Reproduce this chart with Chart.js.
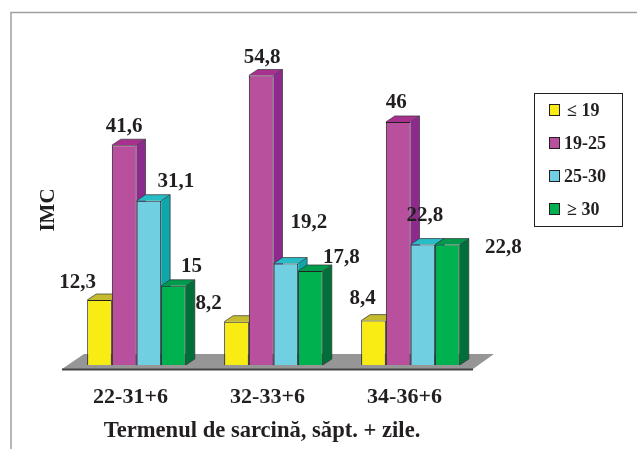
<!DOCTYPE html>
<html>
<head>
<meta charset="utf-8">
<script src="https://cdn.jsdelivr.net/npm/chart.js@4"></script>
<style>
  html, body { margin: 0; padding: 0; background: #fff; overflow: hidden; }
  #chart { display: block; }
</style>
</head>
<body>
<canvas id="chart" width="637" height="449"></canvas>
<script>
const categories = ['22-31+6', '32-33+6', '34-36+6']
const seriesNames = ['≤ 19', '19-25', '25-30', '≥ 30']
const under19 = [12.3, 8.2, 8.4]
const from19to25 = [41.6, 54.8, 46]
const from25to30 = [31.1, 19.2, 22.8]
const over30 = [15, 17.8, 22.8]

const yAxisTitle = 'IMC'
const xAxisTitle = 'Termenul de sarcină, săpt. + zile.'

const serif = '"Liberation Serif", serif'

// front, top and side faces of each series
const faces = [
    { front: '#f8ec14', top: '#c6bb2c', side: '#a89e1c' },
    { front: '#b8509e', top: '#a8308f', side: '#8e2a8e' },
    { front: '#70cfe0', top: '#28bcc6', side: '#10a5aa' },
    { front: '#00b14f', top: '#009a4d', side: '#006f3a' }
]
const depth = { x: 9, y: -6 }

// label nudges from the top centre of each bar, [series][category]
const labelNudges = [
    [[-22, -17], [-28, -18], [-11, -22]],
    [[0, -19], [1, -18], [-2, -19]],
    [[27, -19], [23, -41], [2, -29]],
    [[18, -19], [31, -13], [56, 3]]
]

const polygon = (ctx, points, fill) => {
    ctx.beginPath()
    points.forEach(([x, y], i) => i ? ctx.lineTo(x, y) : ctx.moveTo(x, y))
    ctx.closePath()
    ctx.fillStyle = fill
    ctx.fill()
}

// page frame and the grey floor under the bars
const floorPlugin = {
    id: 'floor',
    beforeDatasetsDraw(chart) {
        const { ctx, chartArea, scales } = chart
        const base = scales.y.getPixelForValue(0)
        ctx.save()
        ctx.strokeStyle = '#a0a0a0'
        ctx.lineWidth = 1.5
        ctx.beginPath()
        ctx.moveTo(11, 449)
        ctx.lineTo(11, 12.5)
        ctx.lineTo(637, 12.5)
        ctx.stroke()

        const left = chartArea.left - 6
        const right = chartArea.right - 6
        polygon(ctx, [[left, base + 4], [left + 22, base - 11], [right + 21, base - 11], [right, base + 4]], '#969696')
        ctx.strokeStyle = '#444'
        ctx.lineWidth = 2
        ctx.beginPath()
        ctx.moveTo(left, base + 4.5)
        ctx.lineTo(right, base + 4.5)
        ctx.stroke()
        ctx.restore()
    }
}

// extruded tops and sides go down first, left to right, so the fronts cover them
const depthPlugin = {
    id: 'depth',
    beforeDatasetsDraw(chart) {
        const { ctx } = chart
        ctx.save()
        chart.data.datasets.forEach((set, s) => {
            const face = faces[s]
            chart.getDatasetMeta(s).data.forEach(bar => {
                const l = bar.x - bar.width / 2
                const r = bar.x + bar.width / 2
                const t = bar.y
                const b = bar.base
                polygon(ctx, [[l, t], [l + depth.x, t + depth.y], [r + depth.x, t + depth.y], [r, t]], face.top)
                polygon(ctx, [[r, t], [r + depth.x, t + depth.y], [r + depth.x, b + depth.y], [r, b]], face.side)
                ctx.strokeStyle = '#333'
                ctx.lineWidth = 0.7
                ctx.beginPath()
                ctx.moveTo(l, t)
                ctx.lineTo(l + depth.x, t + depth.y)
                ctx.lineTo(r + depth.x, t + depth.y)
                ctx.lineTo(r + depth.x, b + depth.y)
                ctx.lineTo(r, b)
                ctx.moveTo(r + depth.x, t + depth.y)
                ctx.lineTo(r, t)
                ctx.stroke()
            })
        })
        ctx.restore()
    }
}

// value labels, axis titles and the boxed legend
const textPlugin = {
    id: 'texts',
    afterDraw(chart) {
        const { ctx } = chart
        ctx.save()
        ctx.fillStyle = '#231f20'
        ctx.textAlign = 'center'
        ctx.textBaseline = 'middle'

        ctx.font = 'bold 21px ' + serif
        chart.data.datasets.forEach((set, s) => {
            chart.getDatasetMeta(s).data.forEach((bar, c) => {
                const [dx, dy] = labelNudges[s][c]
                ctx.fillText(String(set.data[c]).replace('.', ','), bar.x + dx, bar.y + dy)
            })
        })

        ctx.font = 'bold 22.6px ' + serif
        ctx.fillText(xAxisTitle, 262, 431)

        ctx.save()
        ctx.translate(49, 210)
        ctx.rotate(-Math.PI / 2)
        ctx.font = 'bold 21px ' + serif
        ctx.fillText(yAxisTitle, 0, 0)
        ctx.restore()

        ctx.fillStyle = '#fff'
        ctx.fillRect(534, 93, 88, 133)
        ctx.strokeStyle = '#231f20'
        ctx.lineWidth = 1
        ctx.strokeRect(534.5, 93.5, 88, 133)

        ctx.textAlign = 'left'
        ctx.font = 'bold 18px ' + serif
        seriesNames.forEach((name, i) => {
            const y = 110 + i * 33
            ctx.fillStyle = faces[i].front
            ctx.fillRect(550, y - 5, 9, 10)
            ctx.strokeStyle = '#231f20'
            ctx.strokeRect(549.5, y - 5.5, 10, 11)
            ctx.fillStyle = '#231f20'
            ctx.fillText(name, i === 0 || i === 3 ? 567 : 564, y + 1)
        })
        ctx.restore()
    }
}

const data = {
    labels: categories,
    datasets: [under19, from19to25, from25to30, over30].map((values, i) => ({
        label: seriesNames[i],
        data: values,
        backgroundColor: faces[i].front,
        borderColor: '#222',
        borderWidth: 1
    }))
}

const options = {
    responsive: false,
    animation: false,
    categoryPercentage: 0.72,
    barPercentage: 1,
    layout: { padding: { left: 68, right: 158, top: 48, bottom: 0 } },
    plugins: {
        legend: { display: false },
        tooltip: { enabled: false }
    },
    scales: {
        x: {
            grid: { display: false },
            border: { display: false },
            ticks: {
                color: '#231f20',
                padding: 11,
                labelOffset: -6,
                maxRotation: 0,
                font: { family: serif, size: 22, weight: 'bold' }
            },
            afterFit: scale => { scale.height = 84 }
        },
        y: {
            display: false,
            min: 0,
            max: 60
        }
    }
}

new Chart('chart', { type: 'bar', data, options, plugins: [floorPlugin, depthPlugin, textPlugin] })
</script>
</body>
</html>
